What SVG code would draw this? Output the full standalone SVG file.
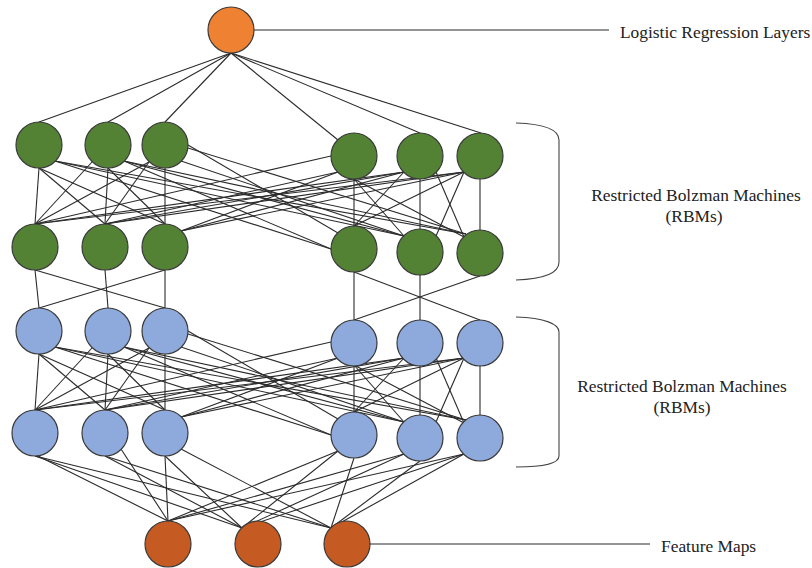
<svg xmlns="http://www.w3.org/2000/svg" width="812" height="568" viewBox="0 0 812 568">
<style>
.c line{stroke:#2b2b2b;stroke-width:1.1;fill:none}
.n{stroke:#3a3a3a;stroke-width:1.2}
.o{fill:#EE8232}
.g{fill:#548235}
.b{fill:#8EA9DB}
.f{fill:#C55A22}
.t{font-family:"Liberation Serif","Times New Roman",serif;font-size:17.4px;fill:#222}
.br{stroke:#444;stroke-width:1.1;fill:none}
</style>
<rect width="812" height="568" fill="#fff"/>
<g id="connectors" class="c">
  <line x1="231" y1="53" x2="39" y2="122"/>
  <line x1="231" y1="53" x2="108" y2="122"/>
  <line x1="231" y1="53" x2="165" y2="122"/>
  <line x1="231" y1="53" x2="338" y2="140"/>
  <line x1="231" y1="53" x2="420" y2="133"/>
  <line x1="231" y1="53" x2="481" y2="133"/>
  <line x1="254" y1="30" x2="609" y2="30"/>
  <line x1="370" y1="544" x2="650" y2="544"/>
  <g id="rbm-green">
    <line x1="39" y1="168" x2="35" y2="224"/>
    <line x1="39" y1="168" x2="105" y2="224"/>
    <line x1="39" y1="168" x2="165" y2="224"/>
    <line x1="92" y1="162" x2="35" y2="224"/>
    <line x1="108" y1="168" x2="105" y2="224"/>
    <line x1="108" y1="168" x2="165" y2="224"/>
    <line x1="149" y1="162" x2="35" y2="224"/>
    <line x1="149" y1="162" x2="105" y2="224"/>
    <line x1="165" y1="168" x2="165" y2="224"/>
    <line x1="55" y1="161" x2="331" y2="249"/>
    <line x1="55" y1="161" x2="404" y2="236"/>
    <line x1="55" y1="161" x2="466" y2="234"/>
    <line x1="124" y1="161" x2="331" y2="249"/>
    <line x1="124" y1="161" x2="404" y2="236"/>
    <line x1="124" y1="161" x2="466" y2="234"/>
    <line x1="188" y1="145" x2="338" y2="233"/>
    <line x1="181" y1="161" x2="404" y2="236"/>
    <line x1="188" y1="148" x2="466" y2="234"/>
    <line x1="331" y1="156" x2="35" y2="224"/>
    <line x1="338" y1="172" x2="105" y2="224"/>
    <line x1="338" y1="172" x2="181" y2="231"/>
    <line x1="404" y1="172" x2="35" y2="224"/>
    <line x1="404" y1="172" x2="105" y2="224"/>
    <line x1="404" y1="172" x2="181" y2="231"/>
    <line x1="464" y1="172" x2="35" y2="224"/>
    <line x1="464" y1="172" x2="105" y2="224"/>
    <line x1="464" y1="172" x2="181" y2="231"/>
    <line x1="354" y1="179" x2="354" y2="226"/>
    <line x1="354" y1="179" x2="404" y2="236"/>
    <line x1="354" y1="179" x2="464" y2="237"/>
    <line x1="404" y1="172" x2="354" y2="226"/>
    <line x1="420" y1="179" x2="420" y2="229"/>
    <line x1="436" y1="172" x2="464" y2="237"/>
    <line x1="464" y1="172" x2="354" y2="226"/>
    <line x1="464" y1="172" x2="436" y2="236"/>
    <line x1="480" y1="179" x2="480" y2="230"/>
  </g>
  <g id="rbm-blue" transform="translate(0,186)">
    <line x1="39" y1="168" x2="35" y2="224"/>
    <line x1="39" y1="168" x2="105" y2="224"/>
    <line x1="39" y1="168" x2="165" y2="224"/>
    <line x1="92" y1="162" x2="35" y2="224"/>
    <line x1="108" y1="168" x2="105" y2="224"/>
    <line x1="108" y1="168" x2="165" y2="224"/>
    <line x1="149" y1="162" x2="35" y2="224"/>
    <line x1="149" y1="162" x2="105" y2="224"/>
    <line x1="165" y1="168" x2="165" y2="224"/>
    <line x1="55" y1="161" x2="331" y2="249"/>
    <line x1="55" y1="161" x2="404" y2="236"/>
    <line x1="55" y1="161" x2="466" y2="234"/>
    <line x1="124" y1="161" x2="331" y2="249"/>
    <line x1="124" y1="161" x2="404" y2="236"/>
    <line x1="124" y1="161" x2="466" y2="234"/>
    <line x1="188" y1="145" x2="338" y2="233"/>
    <line x1="181" y1="161" x2="404" y2="236"/>
    <line x1="188" y1="148" x2="466" y2="234"/>
    <line x1="331" y1="156" x2="35" y2="224"/>
    <line x1="338" y1="172" x2="105" y2="224"/>
    <line x1="338" y1="172" x2="181" y2="231"/>
    <line x1="404" y1="172" x2="35" y2="224"/>
    <line x1="404" y1="172" x2="105" y2="224"/>
    <line x1="404" y1="172" x2="181" y2="231"/>
    <line x1="464" y1="172" x2="35" y2="224"/>
    <line x1="464" y1="172" x2="105" y2="224"/>
    <line x1="464" y1="172" x2="181" y2="231"/>
    <line x1="354" y1="179" x2="354" y2="226"/>
    <line x1="354" y1="179" x2="404" y2="236"/>
    <line x1="354" y1="179" x2="464" y2="237"/>
    <line x1="404" y1="172" x2="354" y2="226"/>
    <line x1="420" y1="179" x2="420" y2="229"/>
    <line x1="436" y1="172" x2="464" y2="237"/>
    <line x1="464" y1="172" x2="354" y2="226"/>
    <line x1="464" y1="172" x2="436" y2="236"/>
    <line x1="480" y1="179" x2="480" y2="230"/>
  </g>
  <line x1="35" y1="270" x2="39" y2="308"/>
  <line x1="105" y1="270" x2="108" y2="308"/>
  <line x1="165" y1="270" x2="165" y2="308"/>
  <line x1="35" y1="270" x2="165" y2="308"/>
  <line x1="165" y1="270" x2="39" y2="308"/>
  <line x1="354" y1="272" x2="354" y2="320"/>
  <line x1="420" y1="275" x2="420" y2="320"/>
  <line x1="354" y1="272" x2="480" y2="320"/>
  <line x1="480" y1="276" x2="354" y2="320"/>
  <line x1="24" y1="449" x2="168" y2="521"/>
  <line x1="35" y1="456" x2="242" y2="528"/>
  <line x1="35" y1="456" x2="331" y2="528"/>
  <line x1="121" y1="449" x2="168" y2="521"/>
  <line x1="105" y1="456" x2="242" y2="528"/>
  <line x1="105" y1="456" x2="331" y2="528"/>
  <line x1="165" y1="456" x2="168" y2="521"/>
  <line x1="165" y1="456" x2="242" y2="528"/>
  <line x1="181" y1="449" x2="331" y2="528"/>
  <line x1="338" y1="451" x2="168" y2="521"/>
  <line x1="338" y1="451" x2="242" y2="528"/>
  <line x1="354" y1="458" x2="331" y2="528"/>
  <line x1="404" y1="454" x2="168" y2="521"/>
  <line x1="404" y1="454" x2="242" y2="528"/>
  <line x1="420" y1="461" x2="331" y2="528"/>
  <line x1="464" y1="454" x2="168" y2="521"/>
  <line x1="464" y1="454" x2="242" y2="528"/>
  <line x1="464" y1="454" x2="331" y2="528"/>
</g>
<g id="brackets">
  <path class="br" d="M516,123 C545,124 559,130 559,140 L559,262 C559,273 545,279 516,280"/>
  <path class="br" d="M516,317 C545,318 559,324 559,332 L559,456 C559,463 545,467 516,467"/>
</g>
<g id="top"><circle class="n o" cx="231" cy="30" r="23"/></g>
<g id="green-upper-1"><circle class="n g" cx="39" cy="145" r="23"/></g>
<g id="green-upper-2"><circle class="n g" cx="108" cy="145" r="23"/></g>
<g id="green-upper-3"><circle class="n g" cx="165" cy="145" r="23"/></g>
<g id="green-upper-4"><circle class="n g" cx="354" cy="156" r="23"/></g>
<g id="green-upper-5"><circle class="n g" cx="420" cy="156" r="23"/></g>
<g id="green-upper-6"><circle class="n g" cx="480" cy="156" r="23"/></g>
<g id="green-lower-1"><circle class="n g" cx="35" cy="247" r="23"/></g>
<g id="green-lower-2"><circle class="n g" cx="105" cy="247" r="23"/></g>
<g id="green-lower-3"><circle class="n g" cx="165" cy="247" r="23"/></g>
<g id="green-lower-4"><circle class="n g" cx="354" cy="249" r="23"/></g>
<g id="green-lower-5"><circle class="n g" cx="420" cy="252" r="23"/></g>
<g id="green-lower-6"><circle class="n g" cx="480" cy="253" r="23"/></g>
<g id="blue-upper-1"><circle class="n b" cx="39" cy="331" r="23"/></g>
<g id="blue-upper-2"><circle class="n b" cx="108" cy="331" r="23"/></g>
<g id="blue-upper-3"><circle class="n b" cx="165" cy="331" r="23"/></g>
<g id="blue-upper-4"><circle class="n b" cx="354" cy="343" r="23"/></g>
<g id="blue-upper-5"><circle class="n b" cx="420" cy="343" r="23"/></g>
<g id="blue-upper-6"><circle class="n b" cx="480" cy="343" r="23"/></g>
<g id="blue-lower-1"><circle class="n b" cx="35" cy="433" r="23"/></g>
<g id="blue-lower-2"><circle class="n b" cx="105" cy="433" r="23"/></g>
<g id="blue-lower-3"><circle class="n b" cx="165" cy="433" r="23"/></g>
<g id="blue-lower-4"><circle class="n b" cx="354" cy="435" r="23"/></g>
<g id="blue-lower-5"><circle class="n b" cx="420" cy="438" r="23"/></g>
<g id="blue-lower-6"><circle class="n b" cx="480" cy="438" r="23"/></g>
<g id="feature-1"><circle class="n f" cx="168" cy="544" r="23"/></g>
<g id="feature-2"><circle class="n f" cx="258" cy="544" r="23"/></g>
<g id="feature-3"><circle class="n f" cx="347" cy="544" r="23"/></g>
<g id="labels">
  <text class="t" x="620" y="38">Logistic Regression Layers</text>
  <text class="t" x="696" y="201" text-anchor="middle">Restricted Bolzman Machines</text>
  <text class="t" x="694" y="222" text-anchor="middle">(RBMs)</text>
  <text class="t" x="682" y="392" text-anchor="middle">Restricted Bolzman Machines</text>
  <text class="t" x="682" y="413" text-anchor="middle">(RBMs)</text>
  <text class="t" x="661" y="552">Feature Maps</text>
</g>
</svg>
